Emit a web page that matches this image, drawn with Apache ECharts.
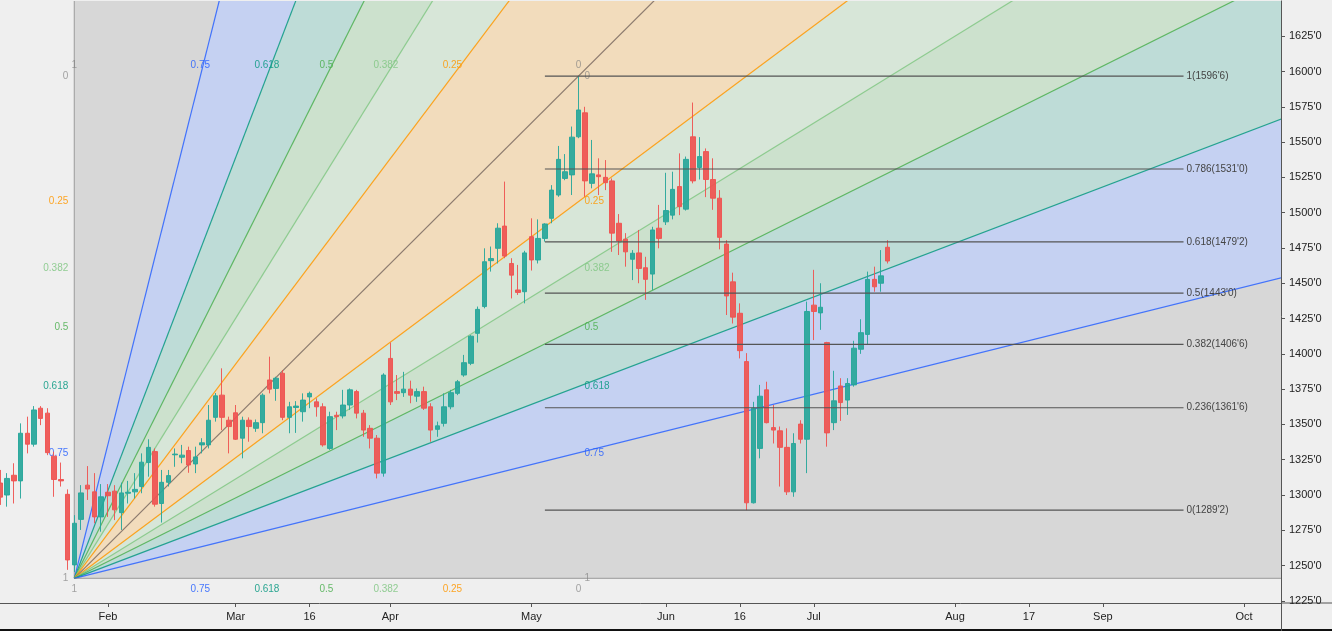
<!DOCTYPE html>
<html><head><meta charset="utf-8">
<script src="https://cdn.jsdelivr.net/npm/echarts@6/dist/echarts.min.js"></script>
<style>html,body{margin:0;padding:0;background:#efefef;}#c{width:1332px;height:631px;}</style>
</head><body><div id="c"></div><script>
// ---- trading calendar (category axis) ----
const tradingDays = {
  '2021-01': [7,8,11,12,13,14,15,19,20,21,22,25,26,27,28,29],
  '2021-02': [1,2,3,4,5,8,9,10,11,12,16,17,18,19,22,23,24,25,26],
  '2021-03': [1,2,3,4,5,8,9,10,11,12,15,16,17,18,19,22,23,24,25,26,29,30,31],
  '2021-04': [1,5,6,7,8,9,12,13,14,15,16,19,20,21,22,23,26,27,28,29,30],
  '2021-05': [3,4,5,6,7,10,11,12,13,14,17,18,19,20,21,24,25,26,27,28],
  '2021-06': [1,2,3,4,7,8,9,10,11,14,15,16,17,18,21,22,23,24,25,28,29,30],
  '2021-07': [1,2,6,7,8,9,12,13,14,15,16,19,20,21,22,23,26,27,28,29,30],
  '2021-08': [2,3,4,5,6,9,10,11,12,13,16,17,18,19,20,23,24,25,26,27,30,31],
  '2021-09': [1,2,3,7,8,9,10,13,14,15,16,17,20,21,22,23,24,27,28,29,30],
  '2021-10': [1,4,5,6,7,8]
};
const xTickLabels = {'2021-02-01':'Feb','2021-03-01':'Mar','2021-03-16':'16','2021-04-01':'Apr','2021-05-03':'May',
  '2021-06-01':'Jun','2021-06-16':'16','2021-07-01':'Jul','2021-08-02':'Aug','2021-08-17':'17','2021-09-01':'Sep','2021-10-01':'Oct'};

// ---- OHLC (from 2021-01-07) ----
const open = [1308.5,1300,1314,1310,1343.75,1336,1361.5,1358,1327.5,1311,1300.5,1250.5,1282.75,1307,1302.25,1284.5,1302,1302.75,1287.5,1301.25,
1302.25,1306,1323,1330.75,1294,1309,1328.5,1326.75,1331.5,1322,1335.5,1335.5,1355,1370.75,1353,1358.25,1340.25,1353,1347.25,1351.25,
1381.5,1375.5,1386.25,1355,1362,1359,1369.5,1366,1362.5,1333,1356.5,1356,1363.75,1373.25,1358,1347.25,1340.25,1315.5,1396.75,1373.25,
1372.5,1375,1370,1373.25,1362.5,1346.5,1350.75,1362.5,1372,1385,1393.25,1414.5,1433.5,1466,1474.75,1490.5,1464,1445.25,1444,1483,
1466.5,1481.75,1496,1512.5,1524.25,1526.75,1553.75,1570.75,1520.75,1526.75,1525,1522.5,1492.5,1481.25,1467,1471.5,1461,1456.5,1489,1493.5,
1498.25,1518.5,1502.5,1553.75,1532,1543.25,1523.5,1510.25,1477.75,1451,1428.75,1394.5,1294.5,1333,1374.5,1347.75,1345.5,1333.75,1302.25,1350.25,
1339.5,1434.5,1429,1408,1351.25,1377.25,1367.25,1378,1403.25,1413.75,1452.75,1450,1475.5];
const high = [1317.75,1315.5,1322.5,1350.75,1355.5,1363,1363,1361.5,1330.75,1323,1304,1285.75,1307,1320.5,1315.5,1307.75,1307.75,1307,1308.75,1310,
1315.5,1329.5,1339.5,1333,1317.75,1317.75,1333,1335.5,1334.25,1334.25,1340.25,1363.75,1372.25,1389.75,1355.5,1363.75,1355.5,1355,1353.5,1372,
1398,1383.75,1388.5,1366,1366.5,1372,1373.25,1368.5,1365,1359,1359,1374.5,1375.5,1374.5,1360.25,1349.5,1342.5,1386.25,1408,1385,
1387.25,1381,1375.5,1376.75,1365,1352,1372,1374.5,1381.5,1399.25,1413.25,1433.5,1474.75,1476,1492.5,1522,1467.75,1463,1473,1496,
1495.25,1492.5,1519.5,1547.25,1541.5,1561,1596.75,1575,1551.5,1538.5,1537.25,1524.25,1499,1485.5,1473.5,1487.75,1468.75,1490,1505.5,1528.25,
1529,1542,1539.75,1578,1553.5,1545.5,1538.5,1516,1480.5,1457.5,1435.75,1400.5,1366,1378,1380.25,1363.75,1348.5,1347.25,1343.75,1353,
1437,1459.5,1450,1408.5,1388,1382.75,1382.75,1409.25,1424.5,1458.25,1461.75,1473.5,1480.5];
const low = [1293,1291.75,1294,1297.5,1329.5,1334.25,1349.5,1328.25,1298.75,1306,1247,1245.5,1275.25,1296.5,1280,1274,1284.5,1282.25,1275.25,1294,
1297.5,1301.25,1313,1291.75,1280.5,1306,1320,1322.5,1315.75,1315.5,1329.5,1333,1352,1346,1329.5,1339,1326,1337.75,1344.75,1343.75,
1372,1366.75,1353,1343.75,1344,1352,1361.5,1355.5,1334.25,1332,1346,1354.25,1360.25,1354.25,1341.25,1333,1311.75,1313,1363.75,1367.25,
1369.5,1365,1366,1360.25,1337.75,1341.25,1348.5,1360.75,1370.75,1383.75,1392,1408,1432.25,1458.25,1464,1467.75,1439.25,1441.75,1435.75,1459,
1464,1479.5,1492.5,1511.25,1523,1512.5,1552.75,1511.25,1517.25,1512.5,1516,1472.25,1470,1461.75,1452.25,1450,1438.25,1445.25,1474.75,1491.25,
1495.25,1498.25,1501.5,1520.75,1523.5,1511,1502,1474,1427.5,1421.5,1396.75,1289.25,1294,1326,1350.75,1336.5,1306,1300,1298.75,1336.5,
1315.5,1409.75,1417,1334.25,1346,1352.5,1356.75,1376.75,1400,1406.25,1444,1444,1464];
const close = [1298.5,1311.75,1310,1343.75,1336,1360.25,1354.25,1330,1311,1310,1254,1280,1301.5,1304.25,1284.5,1298.75,1299.5,1289.5,1301.5,1302,
1304,1323.25,1333.75,1293.5,1309,1313.75,1329,1328.25,1321.25,1327,1337,1353,1370.25,1355,1348.5,1339.5,1353,1348.5,1351.25,1370.75,
1375,1382.75,1355,1362.5,1363,1367.25,1372,1362.5,1335.5,1355.5,1355.5,1363.75,1374.5,1358,1346,1340.25,1315.5,1385,1366,1372,
1375,1370.75,1373.25,1361.5,1346,1349,1362.5,1372.5,1380.25,1393.75,1412.5,1431.5,1465.25,1467.5,1489,1469.25,1455.75,1443.5,1471.5,1466.5,
1481.75,1492,1516,1537.75,1529,1553.5,1572.75,1522.5,1527.5,1525.5,1521.25,1485.5,1480,1472.25,1471.25,1460.5,1452.75,1487.75,1481.75,1501.5,
1516.5,1504.25,1537.75,1522.5,1539.75,1523.5,1510.25,1482.5,1441,1426,1402.25,1294.5,1361.5,1370,1351.25,1346,1333.75,1302.25,1336.5,1339.5,
1430,1430,1433,1344,1366.75,1365.5,1379,1404,1415,1452.75,1447.5,1455.25,1465.75];

// ---- drawings ----
const fanStart = ['2021-01-25', 1241];
const fanEnd = ['2021-05-12', 1596.75];
const fanLevels = [1, 0.75, 0.618, 0.5, 0.382, 0.25, 0];
const fanColors = {'1':'#808080','0.75':'#2962ff','0.618':'#089981','0.5':'#4caf50','0.382':'#81c784','0.25':'#ff9800','0':'#7a6a60'};
const fibRange = ['2021-05-05', '2021-09-20'];
const fibLowHigh = [1289.25, 1596.75];
const fibLevels = [0, 0.236, 0.382, 0.5, 0.618, 0.786, 1];

const FONT = 'Liberation Sans, Arial, sans-serif';
const cats = [];
Object.keys(tradingDays).forEach(m => tradingDays[m].forEach(d => cats.push(m + '-' + String(d).padStart(2, '0'))));
const ix = d => cats.indexOf(d);
function fmtPrice(v) {
  const r = Math.round(v * 4) / 4;
  const i = Math.floor(r);
  return i + "'" + Math.round((r - i) * 8);
}
function rgba(hex, a) {
  const n = parseInt(hex.slice(1), 16);
  return 'rgba(' + (n >> 16) + ',' + ((n >> 8) & 255) + ',' + (n & 255) + ',' + a + ')';
}
const candleData = open.map((o, i) => [o, close[i], low[i], high[i]]);

function renderFan(params, api) {
  const O = api.coord([api.value(0), api.value(1)]);
  const C = api.coord([api.value(2), api.value(3)]);
  const W = C[0] - O[0], H = O[1] - C[1];
  const K = 40;
  const rays = [];
  fanLevels.forEach(L => { if (L !== 0) rays.push({L: L, dx: (1 - L) * W, dy: -H}); });
  rays.push({L: 0, dx: W, dy: -H});
  fanLevels.slice().reverse().forEach(L => { if (L !== 0) rays.push({L: L, dx: W, dy: -(1 - L) * H}); });
  const ch = [];
  for (let i = 0; i < rays.length - 1; i++) {
    const a = rays[i], b = rays[i + 1];
    const Lc = Math.max(a.L, b.L);
    ch.push({type: 'polygon', silent: true,
      shape: {points: [O, [O[0] + K * a.dx, O[1] + K * a.dy], [O[0] + K * b.dx, O[1] + K * b.dy]]},
      style: {fill: rgba(fanColors[String(Lc)], 0.21)}});
  }
  rays.forEach(r => ch.push({type: 'line', silent: true,
    shape: {x1: O[0], y1: O[1], x2: O[0] + K * r.dx, y2: O[1] + K * r.dy},
    style: {stroke: rgba(fanColors[String(r.L)], r.L === 1 ? 0.6 : 0.85), lineWidth: 1.2}}));
  fanLevels.forEach(L => {
    const col = L === 0 || L === 1 ? 'rgba(128,128,128,0.7)' : rgba(fanColors[String(L)], 0.85);
    const t = String(L);
    const st = (align, va) => ({text: t, fill: col, fontSize: 10, fontFamily: FONT, align: align, verticalAlign: va});
    ch.push({type: 'text', silent: true, x: C[0] - L * W, y: C[1] - 6, style: st('center', 'bottom')});
    ch.push({type: 'text', silent: true, x: C[0] - L * W, y: O[1] + 6, style: st('center', 'top')});
    ch.push({type: 'text', silent: true, x: O[0] - 6, y: C[1] + L * H, style: st('right', 'middle')});
    ch.push({type: 'text', silent: true, x: C[0] + 6, y: C[1] + L * H, style: st('left', 'middle')});
  });
  const cs = params.coordSys;
  return {type: 'group', children: ch, clipPath: {type: 'rect', shape: {x: cs.x, y: cs.y, width: cs.width, height: cs.height}}};
}

function renderFib(params, api) {
  const p1 = api.coord([api.value(0), api.value(2)]);
  const p2 = api.coord([api.value(1), api.value(2)]);
  const L = api.value(3);
  return {type: 'group', children: [
    {type: 'line', silent: true, shape: {x1: p1[0], y1: p1[1], x2: p2[0], y2: p2[1]}, style: {stroke: '#555', lineWidth: 1.2}},
    {type: 'text', silent: true, x: p2[0] + 3, y: p2[1], style: {text: L + '(' + fmtPrice(api.value(2)) + ')', fill: '#444', fontSize: 10, fontFamily: FONT, align: 'left', verticalAlign: 'middle'}}
  ]};
}

const chart = echarts.init(document.getElementById('c'), null, {renderer: 'canvas'});
chart.setOption({
  backgroundColor: '#efefef',
  animation: false,
  grid: {left: -3, right: 51, top: 0.9, bottom: -5.2, containLabel: false, outerBoundsMode: 'none'},
  xAxis: {
    type: 'category', data: cats, boundaryGap: true, offset: -33.2,
    axisLine: {show: true, lineStyle: {color: '#555', width: 1}},
    axisTick: {show: true, alignWithLabel: true, length: 4, interval: (i, v) => v in xTickLabels, lineStyle: {color: '#555'}},
    axisLabel: {interval: (i, v) => v in xTickLabels, formatter: v => xTickLabels[v] || '', color: '#222', fontSize: 11, fontFamily: FONT, margin: 8},
    splitLine: {show: false}
  },
  yAxis: {
    type: 'value', position: 'right', min: 1200, max: 1650, interval: 25,
    axisLine: {show: true, lineStyle: {color: '#555'}},
    axisTick: {show: true, length: 4, lineStyle: {color: '#555'}},
    axisLabel: {color: '#222', fontSize: 11, fontFamily: FONT, margin: 8, showMaxLabel: false, formatter: v => fmtPrice(v)},
    splitLine: {show: false}
  },
  series: [
    {type: 'custom', z: 1, silent: true, clip: true, renderItem: renderFan,
      encode: {x: [0, 2], y: [1, 3]},
      data: [[ix(fanStart[0]), fanStart[1], ix(fanEnd[0]), fanEnd[1]]]},
    {type: 'candlestick', data: candleData, barWidth: '74%', z: 2,
      itemStyle: {color: '#26a69a', color0: '#ef5350', borderColor: '#26a69a', borderColor0: '#ef5350', borderWidth: 1, opacity: 0.92},
      markLine: {silent: true, symbol: ['none', 'none'], data: [{yAxis: close[close.length - 1]}],
        lineStyle: {width: 0, opacity: 0},
        label: {show: true, position: 'end', distance: 1, formatter: () => fmtPrice(close[close.length - 1]),
          color: '#fff', backgroundColor: '#ef5350', padding: [3, 6, 3, 6], fontSize: 11, fontWeight: 'bold', fontFamily: FONT}}},
    {type: 'custom', z: 4, silent: true, renderItem: renderFib,
      encode: {x: [0, 1], y: 2},
      data: fibLevels.map(L => [ix(fibRange[0]), ix(fibRange[1]), fibLowHigh[0] + L * (fibLowHigh[1] - fibLowHigh[0]), L])}
  ],
  graphic: [
    {type: 'line', silent: true, shape: {x1: 1281, y1: 603, x2: 1332, y2: 603}, style: {stroke: '#555', lineWidth: 1}},
    {type: 'rect', silent: true, shape: {x: 0, y: 629, width: 1332, height: 2}, style: {fill: '#111'}}
  ]
});
</script></body></html>
